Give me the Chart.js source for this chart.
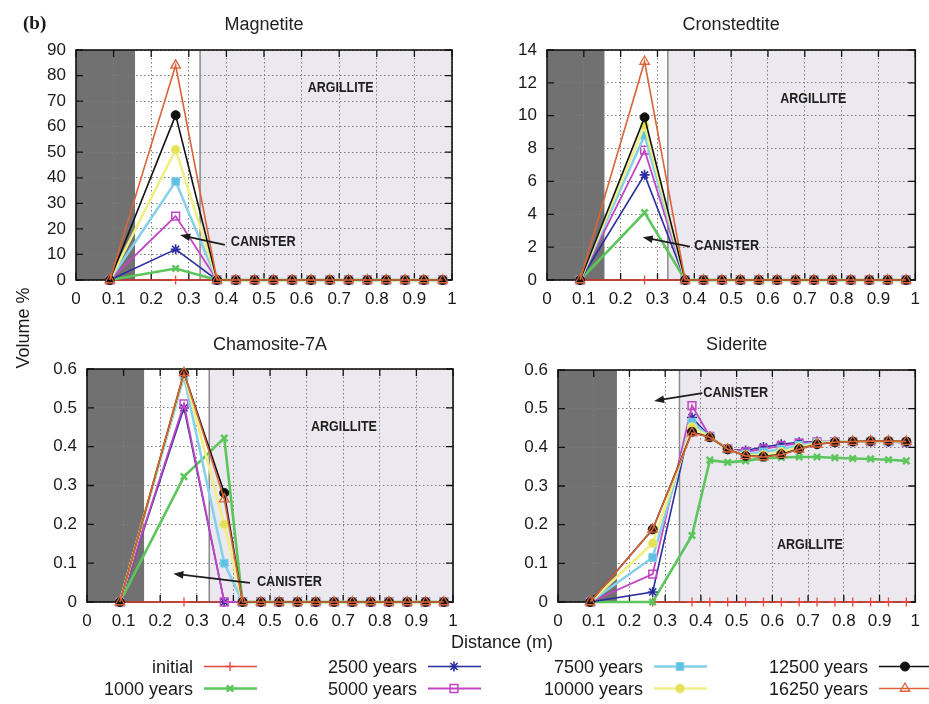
<!DOCTYPE html>
<html>
<head>
<meta charset="utf-8">
<script src="https://cdn.jsdelivr.net/npm/chart.js@4.4.1/dist/chart.umd.min.js"></script>
<style>
  body { margin: 0; background: #fff; width: 929px; height: 704px; overflow: hidden; position: relative; }
  canvas { position: absolute; }
</style>
</head>
<body>
<canvas id="magnetite" width="470" height="310" style="left:0;top:0"></canvas>
<canvas id="cronstedtite" width="459" height="310" style="left:470px;top:0"></canvas>
<canvas id="chamosite" width="470" height="330" style="left:0;top:310px"></canvas>
<canvas id="siderite" width="459" height="330" style="left:470px;top:310px"></canvas>
<canvas id="labels" width="929" height="704" style="left:0;top:0;pointer-events:none"></canvas>
<script>
// distance from the centre (m) of each grid cell
const distance = [0.09, 0.265, 0.375, 0.425, 0.475, 0.525, 0.575, 0.625, 0.675, 0.725, 0.775, 0.825, 0.875, 0.925, 0.975];
const seriesNames = ['initial', '1000 years', '2500 years', '5000 years', '7500 years', '10000 years', '12500 years', '16250 years'];

const xTicks = [0, 0.1, 0.2, 0.3, 0.4, 0.5, 0.6, 0.7, 0.8, 0.9, 1];
const xTickLabels = ['0', '0.1', '0.2', '0.3', '0.4', '0.5', '0.6', '0.7', '0.8', '0.9', '1'];
const magnetiteTicks = [0, 10, 20, 30, 40, 50, 60, 70, 80, 90];
const magnetiteTickLabels = ['0', '10', '20', '30', '40', '50', '60', '70', '80', '90'];
const cronstedtiteTicks = [0, 2, 4, 6, 8, 10, 12, 14];
const cronstedtiteTickLabels = ['0', '2', '4', '6', '8', '10', '12', '14'];
const smallTicks = [0, 0.1, 0.2, 0.3, 0.4, 0.5, 0.6];
const smallTickLabels = ['0', '0.1', '0.2', '0.3', '0.4', '0.5', '0.6'];

// one row per series, same order as seriesNames
const magnetite = [
  [0, 0,    0, 0, 0, 0, 0, 0, 0, 0, 0, 0, 0, 0, 0],
  [0, 4.5,  0, 0, 0, 0, 0, 0, 0, 0, 0, 0, 0, 0, 0],
  [0, 12,   0, 0, 0, 0, 0, 0, 0, 0, 0, 0, 0, 0, 0],
  [0, 25,   0, 0, 0, 0, 0, 0, 0, 0, 0, 0, 0, 0, 0],
  [0, 38.5, 0, 0, 0, 0, 0, 0, 0, 0, 0, 0, 0, 0, 0],
  [0, 51,   0, 0, 0, 0, 0, 0, 0, 0, 0, 0, 0, 0, 0],
  [0, 64.5, 0, 0, 0, 0, 0, 0, 0, 0, 0, 0, 0, 0, 0],
  [0, 84,   0, 0, 0, 0, 0, 0, 0, 0, 0, 0, 0, 0, 0]
];
const cronstedtite = [
  [0, 0,    0, 0, 0, 0, 0, 0, 0, 0, 0, 0, 0, 0, 0],
  [0, 4.1,  0, 0, 0, 0, 0, 0, 0, 0, 0, 0, 0, 0, 0],
  [0, 6.4,  0, 0, 0, 0, 0, 0, 0, 0, 0, 0, 0, 0, 0],
  [0, 7.9,  0, 0, 0, 0, 0, 0, 0, 0, 0, 0, 0, 0, 0],
  [0, 8.8,  0, 0, 0, 0, 0, 0, 0, 0, 0, 0, 0, 0, 0],
  [0, 9.4,  0, 0, 0, 0, 0, 0, 0, 0, 0, 0, 0, 0, 0],
  [0, 9.9,  0, 0, 0, 0, 0, 0, 0, 0, 0, 0, 0, 0, 0],
  [0, 13.3, 0, 0, 0, 0, 0, 0, 0, 0, 0, 0, 0, 0, 0]
];
const chamosite = [
  [0, 0,     0,     0, 0, 0, 0, 0, 0, 0, 0, 0, 0, 0, 0],
  [0, 0.323, 0.422, 0, 0, 0, 0, 0, 0, 0, 0, 0, 0, 0, 0],
  [0, 0.5,   0,     0, 0, 0, 0, 0, 0, 0, 0, 0, 0, 0, 0],
  [0, 0.51,  0,     0, 0, 0, 0, 0, 0, 0, 0, 0, 0, 0, 0],
  [0, 0.58,  0.1,   0, 0, 0, 0, 0, 0, 0, 0, 0, 0, 0, 0],
  [0, 0.59,  0.2,   0, 0, 0, 0, 0, 0, 0, 0, 0, 0, 0, 0],
  [0, 0.59,  0.281, 0, 0, 0, 0, 0, 0, 0, 0, 0, 0, 0, 0],
  [0, 0.59,  0.265, 0, 0, 0, 0, 0, 0, 0, 0, 0, 0, 0, 0]
];
const siderite = [
  [0, 0,     0,     0,     0,     0,     0,     0,     0,     0,     0,     0,     0,     0,     0],
  [0, 0,     0.172, 0.367, 0.361, 0.365, 0.372, 0.374, 0.375, 0.375, 0.373, 0.371, 0.370, 0.368, 0.365],
  [0, 0.026, 0.477, 0.428, 0.395, 0.392, 0.401, 0.408, 0.413, 0.415, 0.415, 0.415, 0.415, 0.414, 0.412],
  [0, 0.072, 0.508, 0.428, 0.396, 0.388, 0.396, 0.404, 0.411, 0.414, 0.415, 0.415, 0.415, 0.415, 0.413],
  [0, 0.115, 0.465, 0.427, 0.395, 0.383, 0.388, 0.395, 0.405, 0.412, 0.414, 0.415, 0.416, 0.415, 0.414],
  [0, 0.152, 0.452, 0.427, 0.395, 0.380, 0.380, 0.388, 0.400, 0.410, 0.414, 0.415, 0.416, 0.416, 0.415],
  [0, 0.188, 0.440, 0.426, 0.395, 0.378, 0.376, 0.382, 0.396, 0.408, 0.413, 0.415, 0.416, 0.416, 0.415],
  [0, 0.188, 0.437, 0.426, 0.395, 0.378, 0.375, 0.381, 0.395, 0.408, 0.413, 0.415, 0.416, 0.416, 0.415]
];

// gnuplot-like line types
const styles = [
  { color: '#e4483f', fill: '#e4483f', point: 'cross',    radius: 4.5, width: 1.3, pw: 1.3 },
  { color: '#5cc65c', fill: '#5cc65c', point: 'crossRot', radius: 4.5, width: 2.6, pw: 2.5 },
  { color: '#2a2e9e', fill: '#2a2e9e', point: 'star',     radius: 5,   width: 1.6, pw: 1.6 },
  { color: '#c445c4', fill: 'rgba(255,255,255,0)', point: 'rect', radius: 5.5, width: 1.8, pw: 1.5 },
  { color: '#86d0ea', fill: '#5ec0e2', point: 'rect',     radius: 5.5, width: 2.6, pw: 1 },
  { color: '#efef85', fill: '#e2e25a', point: 'circle',   radius: 4.5, width: 2.6, pw: 1 },
  { color: '#111111', fill: '#111111', point: 'circle',   radius: 4.5, width: 1.6, pw: 1 },
  { color: '#d9643a', fill: 'rgba(255,255,255,0)', point: 'triangle', radius: 5.5, width: 1.6, pw: 1.3 }
];

const FONT = '"Liberation Sans", Arial, Helvetica, sans-serif';
const NOTE_FONT = 'bold 15px "Liberation Sans Narrow", "Liberation Sans", Arial, sans-serif';

const framePlugin = {
  id: 'frame',
  beforeDraw(chart, args, opts) {
    const { ctx, chartArea: a, scales: { x } } = chart;
    ctx.save();
    const d1 = x.getPixelForValue(opts.zones[0]);
    const d2 = x.getPixelForValue(opts.zones[1]);
    ctx.fillStyle = '#717171';
    ctx.fillRect(a.left, a.top, d1 - a.left, a.bottom - a.top);
    ctx.fillStyle = '#ebe8ef';
    ctx.fillRect(d2, a.top, a.right - d2, a.bottom - a.top);
    ctx.restore();
  },
  beforeDatasetsDraw(chart, args, opts) {
    const { ctx, chartArea: a, scales: { x, y } } = chart;
    ctx.save();
    const d2 = x.getPixelForValue(opts.zones[1]);
    ctx.strokeStyle = '#8a8a8a';
    ctx.lineWidth = 1.5;
    ctx.beginPath();
    ctx.moveTo(d2, a.top);
    ctx.lineTo(d2, a.bottom);
    ctx.stroke();
    // inward tick marks on all four sides
    ctx.strokeStyle = '#111';
    ctx.lineWidth = 1.3;
    ctx.beginPath();
    x.ticks.forEach(t => {
      const px = x.getPixelForValue(t.value);
      ctx.moveTo(px, a.bottom); ctx.lineTo(px, a.bottom - 7);
      ctx.moveTo(px, a.top); ctx.lineTo(px, a.top + 7);
    });
    y.ticks.forEach(t => {
      const py = y.getPixelForValue(t.value);
      ctx.moveTo(a.left, py); ctx.lineTo(a.left + 7, py);
      ctx.moveTo(a.right, py); ctx.lineTo(a.right - 7, py);
    });
    ctx.stroke();
    ctx.lineWidth = 1.6;
    ctx.strokeRect(a.left, a.top, a.right - a.left, a.bottom - a.top);
    ctx.restore();
  },
  afterDraw(chart, args, opts) {
    const { ctx, chartArea: a, scales: { x, y } } = chart;
    ctx.save();
    ctx.fillStyle = '#222';
    ctx.font = '18px ' + FONT;
    ctx.textAlign = 'center';
    ctx.textBaseline = 'alphabetic';
    ctx.fillText(opts.title, (a.left + a.right) / 2, opts.titleY);

    opts.notes.forEach(n => {
      ctx.font = NOTE_FONT;
      const w = ctx.measureText(n.text).width;
      ctx.save();
      ctx.translate(x.getPixelForValue(n.x), y.getPixelForValue(n.y));
      ctx.scale(n.w / w, 1);
      ctx.textAlign = 'center';
      ctx.textBaseline = 'middle';
      ctx.fillStyle = '#1e1e1e';
      ctx.fillText(n.text, 0, 0);
      ctx.restore();
      if (n.arrow) {
        const x0 = x.getPixelForValue(n.arrow[0]), y0 = y.getPixelForValue(n.arrow[1]);
        const x1 = x.getPixelForValue(n.arrow[2]), y1 = y.getPixelForValue(n.arrow[3]);
        const ang = Math.atan2(y1 - y0, x1 - x0);
        ctx.strokeStyle = '#1e1e1e';
        ctx.fillStyle = '#1e1e1e';
        ctx.lineWidth = 1.8;
        ctx.beginPath();
        ctx.moveTo(x0, y0);
        ctx.lineTo(x1 - 6 * Math.cos(ang), y1 - 6 * Math.sin(ang));
        ctx.stroke();
        ctx.beginPath();
        ctx.moveTo(x1, y1);
        ctx.lineTo(x1 - 10 * Math.cos(ang) + 3.8 * Math.sin(ang), y1 - 10 * Math.sin(ang) - 3.8 * Math.cos(ang));
        ctx.lineTo(x1 - 10 * Math.cos(ang) - 3.8 * Math.sin(ang), y1 - 10 * Math.sin(ang) + 3.8 * Math.cos(ang));
        ctx.closePath();
        ctx.fill();
      }
    });
    ctx.restore();
  }
};

function makeChart(id, rows, yMax, yTicks, yTickLabels, box, frame) {
  const datasets = rows.map((vals, i) => ({
    label: seriesNames[i],
    data: distance.map((d, j) => ({ x: d, y: vals[j] })),
    borderColor: styles[i].color,
    backgroundColor: styles[i].fill,
    pointBorderColor: styles[i].color,
    pointBackgroundColor: styles[i].fill,
    pointStyle: styles[i].point,
    pointRadius: styles[i].radius,
    pointBorderWidth: styles[i].pw,
    borderWidth: styles[i].width,
    tension: 0,
    fill: false,
    clip: false,
    order: rows.length - i
  }));
  return new Chart(document.getElementById(id), {
    type: 'line',
    data: { datasets },
    plugins: [framePlugin],
    options: {
      responsive: false,
      animation: false,
      events: [],
      layout: { padding: box.pad },
      plugins: {
        legend: { display: false },
        tooltip: { enabled: false },
        title: { display: false },
        frame
      },
      scales: {
        x: {
          type: 'linear', min: 0, max: 1,
          afterBuildTicks: s => { s.ticks = xTicks.map(v => ({ value: v })); },
          afterFit: s => { s.height = 25; },
          grid: { color: '#7c7c7c', lineWidth: 1, drawTicks: false },
          border: { display: false, dash: [1.5, 2.5] },
          ticks: {
            padding: 9, color: '#1a1a1a', autoSkip: false, maxRotation: 0,
            font: { family: FONT, size: 17 },
            callback: (v, i) => xTickLabels[i]
          }
        },
        y: {
          type: 'linear', min: 0, max: yMax,
          afterBuildTicks: s => { s.ticks = yTicks.map(v => ({ value: v })); },
          afterFit: s => { s.width = box.yWidth; },
          grid: { color: '#7c7c7c', lineWidth: 1, drawTicks: false },
          border: { display: false, dash: [1.5, 2.5] },
          ticks: {
            padding: 10, color: '#1a1a1a', autoSkip: false,
            font: { family: FONT, size: 17 },
            callback: (v, i) => yTickLabels[i]
          }
        }
      }
    }
  });
}

makeChart('magnetite', magnetite, 90, magnetiteTicks, magnetiteTickLabels,
  { pad: { left: 16, right: 18, top: 50, bottom: 5 }, yWidth: 60 },
  { title: 'Magnetite', titleY: 29.5, zones: [0.157, 0.33], notes: [
    { text: 'ARGILLITE', x: 0.704, y: 75, w: 66 },
    { text: 'CANISTER', x: 0.498, y: 14.8, w: 65, arrow: [0.396, 13.7, 0.277, 17.6] }
  ] });

makeChart('cronstedtite', cronstedtite, 14, cronstedtiteTicks, cronstedtiteTickLabels,
  { pad: { left: 27, right: 6, top: 50, bottom: 5 }, yWidth: 50 },
  { title: 'Cronstedtite', titleY: 29.5, zones: [0.156, 0.328], notes: [
    { text: 'ARGILLITE', x: 0.723, y: 11.0, w: 66 },
    { text: 'CANISTER', x: 0.488, y: 2.09, w: 65, arrow: [0.388, 2.03, 0.26, 2.6] }
  ] });

makeChart('chamosite', chamosite, 0.6, smallTicks, smallTickLabels,
  { pad: { left: 27, right: 17, top: 59, bottom: 13 }, yWidth: 60 },
  { title: 'Chamosite-7A', titleY: 39.5, zones: [0.156, 0.334], notes: [
    { text: 'ARGILLITE', x: 0.702, y: 0.452, w: 66 },
    { text: 'CANISTER', x: 0.553, y: 0.053, w: 65, arrow: [0.445, 0.049, 0.236, 0.073] }
  ] });

makeChart('siderite', siderite, 0.6, smallTicks, smallTickLabels,
  { pad: { left: 28, right: 6, top: 60, bottom: 13 }, yWidth: 60 },
  { title: 'Siderite', titleY: 39.5, zones: [0.165, 0.34], notes: [
    { text: 'CANISTER', x: 0.4975, y: 0.541, w: 65, arrow: [0.404, 0.54, 0.269, 0.52] },
    { text: 'ARGILLITE', x: 0.705, y: 0.149, w: 66 }
  ] });

// shared labels and legend
(function () {
  const ctx = document.getElementById('labels').getContext('2d');
  ctx.fillStyle = '#1a1a1a';
  ctx.font = 'bold 19px "Liberation Serif", "Times New Roman", serif';
  ctx.textAlign = 'left';
  ctx.fillText('(b)', 23, 29);

  ctx.font = '18px ' + FONT;
  ctx.textAlign = 'center';
  ctx.fillText('Distance (m)', 502, 648);

  ctx.save();
  ctx.translate(29, 328);
  ctx.rotate(-Math.PI / 2);
  ctx.fillText('Volume %', 0, 0);
  ctx.restore();

  const colRight = [193, 417, 643, 868];
  const rowMid = [666.5, 688.5];
  seriesNames.forEach((name, i) => {
    const s = styles[i];
    const xr = colRight[Math.floor(i / 2)];
    const yc = rowMid[i % 2];
    ctx.fillStyle = '#1a1a1a';
    ctx.font = '18px ' + FONT;
    ctx.textAlign = 'right';
    ctx.fillText(name, xr, yc + 6.5);
    ctx.strokeStyle = s.color;
    ctx.lineWidth = s.width;
    ctx.beginPath();
    ctx.moveTo(xr + 11, yc);
    ctx.lineTo(xr + 64, yc);
    ctx.stroke();
    ctx.fillStyle = s.fill;
    ctx.lineWidth = s.pw;
    if (Chart.helpers && Chart.helpers.drawPoint) {
      Chart.helpers.drawPoint(ctx, { pointStyle: s.point, radius: s.radius, borderWidth: s.pw, rotation: 0 }, xr + 37, yc);
    }
  });
})();
</script>
</body>
</html>
